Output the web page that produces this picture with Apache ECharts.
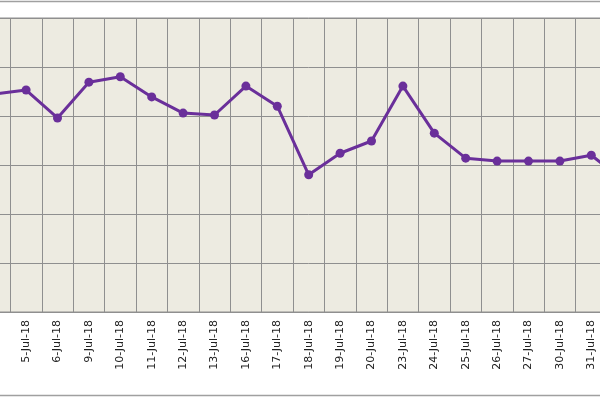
<!DOCTYPE html>
<html><head><meta charset="utf-8">
<script src="https://cdn.jsdelivr.net/npm/echarts@6/dist/echarts.min.js"></script>
<style>html,body{margin:0;padding:0;background:#fff;overflow:hidden;width:600px;height:400px;position:relative}#c{position:absolute;left:-21.4px;top:0;width:660px;height:400px}</style>
</head><body><div id="c"></div>
<script>
var categories = ['4-Jul-18','5-Jul-18','6-Jul-18','9-Jul-18','10-Jul-18','11-Jul-18','12-Jul-18','13-Jul-18','16-Jul-18','17-Jul-18','18-Jul-18','19-Jul-18','20-Jul-18','23-Jul-18','24-Jul-18','25-Jul-18','26-Jul-18','27-Jul-18','30-Jul-18','31-Jul-18','1-Aug-18'];
var values = [4.45,4.53,3.96,4.69,4.80,4.39,4.06,4.02,4.61,4.20,2.80,3.24,3.49,4.61,3.65,3.14,3.08,3.08,3.08,3.20,2.70];
var chart = echarts.init(document.getElementById('c'));
chart.setOption({
  animation:false,
  graphic:[{type:'rect',shape:{x:15,y:1.5,width:620,height:394},style:{fill:'none',stroke:'#a0a0a0',lineWidth:1.5},silent:true}],
  grid:{left:0,width:659.4,top:18,bottom:88,show:true,backgroundColor:'#edebe1',borderColor:'#8f8f8f',borderWidth:1},
  xAxis:{type:'category',data:categories,boundaryGap:true,
    axisLine:{lineStyle:{color:'#8f8f8f'}},axisTick:{show:false},
    splitLine:{show:true,interval:0,lineStyle:{color:'#8f8f8f',width:1}},
    axisLabel:{rotate:90,interval:0,color:'#222',fontSize:11,fontFamily:'DejaVu Sans',margin:8}},
  yAxis:{type:'value',min:0,max:6,interval:1,axisLabel:{show:false},axisLine:{show:false},axisTick:{show:false},
    splitLine:{lineStyle:{color:'#8f8f8f',width:1}}},
  series:[{type:'line',data:values,symbol:'circle',symbolSize:9,
    lineStyle:{color:'#6a2f9a',width:3},itemStyle:{color:'#6a2f9a'}}]
});
</script></body></html>
